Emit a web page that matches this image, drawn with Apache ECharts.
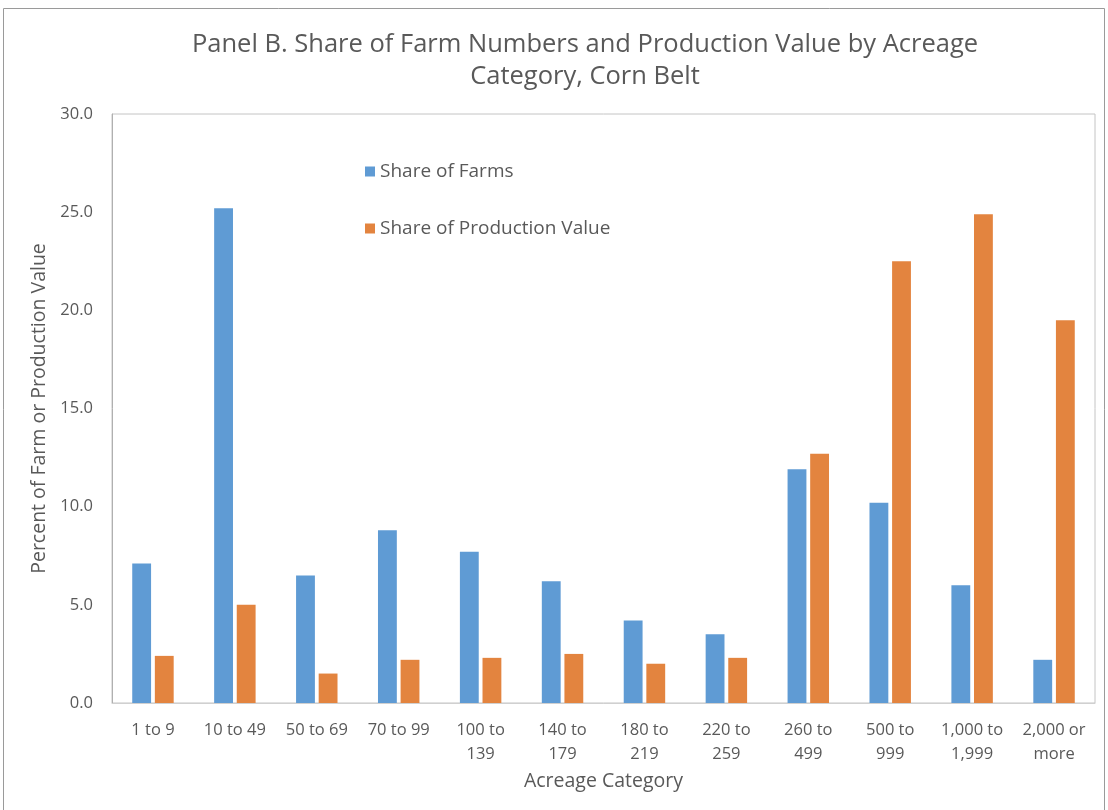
<!doctype html>
<html>
<head>
    <meta http-equiv="Content-Type" content="text/html; charset=utf-8" />
    <title>Panel B</title>
    <script src="https://cdn.jsdelivr.net/npm/echarts@6/dist/echarts.min.js"></script>
    <style>
        html, body { margin: 0; padding: 0; background: #fff; }
        #main { width: 1108px; height: 810px; }
    </style>
</head>
<body>
<div id="main"></div>
<script type="text/javascript">
    // acreage categories, shown on the x axis
    var categories = ['1 to 9', '10 to 49', '50 to 69', '70 to 99', '100 to\n139', '140 to\n179',
        '180 to\n219', '220 to\n259', '260 to\n499', '500 to\n999', '1,000 to\n1,999', '2,000 or\nmore'];
    // percent values
    var shareFarms = [7.1, 25.2, 6.5, 8.8, 7.7, 6.2, 4.2, 3.5, 11.9, 10.2, 6.0, 2.2];
    var shareValue = [2.4, 5.0, 1.5, 2.2, 2.3, 2.5, 2.0, 2.3, 12.7, 22.5, 24.9, 19.5];
    var yTicks = [0, 5, 10, 15, 20, 25, 30];

    var font = 'Open Sans';
    var grey = '#595959';

    var myChart = echarts.init(document.getElementById('main'));

    var option = {
        backgroundColor: '#fff',
        animation: false,
        textStyle: { fontFamily: font, color: grey },
        title: {
            text: 'Panel B. Share of Farm Numbers and Production Value by Acreage\nCategory, Corn Belt',
            left: 580,
            textAlign: 'center',
            top: 24,
            textStyle: { fontFamily: font, fontSize: 25.5, fontWeight: 'normal', color: grey, lineHeight: 32 }
        },
        graphic: [{
            type: 'rect',
            shape: { x: 3.5, y: 8.5, width: 1101, height: 810 },
            style: { fill: null, stroke: '#9a9a9a', lineWidth: 1 },
            silent: true
        }],
        legend: {
            orient: 'vertical',
            left: 360,
            top: 157,
            itemWidth: 10,
            itemHeight: 10,
            itemGap: 38,
            icon: 'rect',
            textStyle: { fontFamily: font, fontSize: 19, color: grey }
        },
        grid: {
            left: 112,
            right: 13,
            top: 114,
            bottom: 107,
            show: true,
            borderColor: '#c4c4c4',
            borderWidth: 1
        },
        xAxis: {
            type: 'category',
            data: categories,
            name: 'Acreage Category',
            nameLocation: 'middle',
            nameGap: 68,
            nameTextStyle: { fontFamily: font, fontSize: 19.5, color: grey },
            axisLine: { lineStyle: { color: '#d0d0d0' } },
            axisTick: { show: false },
            axisLabel: {
                interval: 0,
                margin: 15,
                fontFamily: font,
                fontSize: 16.5,
                lineHeight: 24,
                color: grey
            }
        },
        yAxis: {
            type: 'value',
            min: yTicks[0],
            max: yTicks[yTicks.length - 1],
            interval: 5,
            name: 'Percent of Farm or Production Value',
            nameLocation: 'middle',
            nameGap: 60,
            nameTextStyle: { fontFamily: font, fontSize: 19.5, color: grey },
            axisLine: { show: true, lineStyle: { color: '#b0b0b0' } },
            axisTick: { show: false },
            splitLine: { show: false },
            axisLabel: {
                margin: 19,
                fontFamily: font,
                fontSize: 16.5,
                color: grey,
                formatter: function (v) { return v.toFixed(1); }
            }
        },
        series: [{
            name: 'Share of Farms',
            type: 'bar',
            data: shareFarms,
            barWidth: '23%',
            barGap: '20%',
            itemStyle: { color: '#5f9bd4' }
        }, {
            name: 'Share of Production Value',
            type: 'bar',
            data: shareValue,
            barWidth: '23%',
            itemStyle: { color: '#e3843f' }
        }]
    };

    myChart.setOption(option);
</script>
</body>
</html>
